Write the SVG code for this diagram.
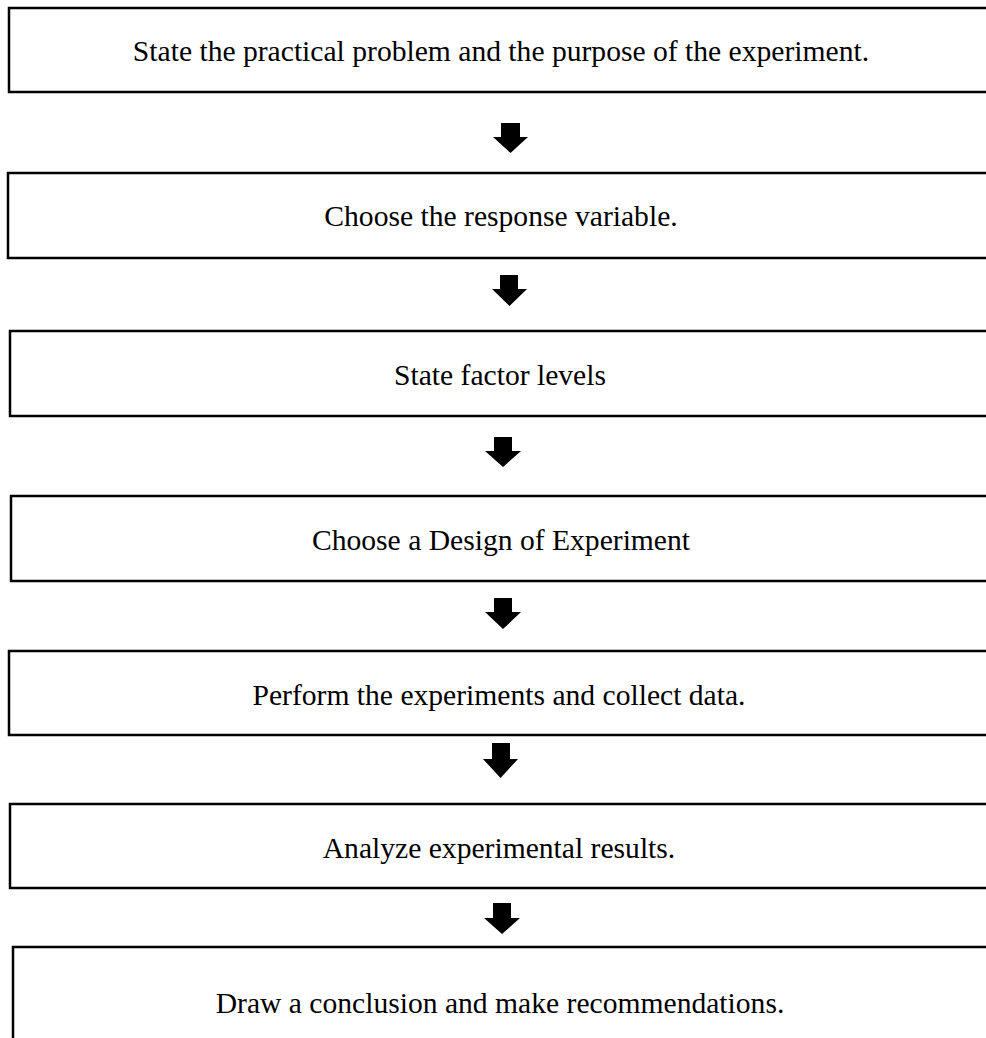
<svg xmlns="http://www.w3.org/2000/svg" width="986" height="1038" viewBox="0 0 986 1038">
<style>
.box{fill:#fff;stroke:#000;stroke-width:2.5}
.t{font-family:"Liberation Serif","Times New Roman",serif;font-size:29.6px;fill:#000;text-anchor:middle}
.arr{fill:#000}
</style>
<rect width="986" height="1038" fill="#fff"/>
<g id="n1"><rect class="box" x="9" y="8" width="1000" height="84"/><text class="t" x="501" y="61">State the practical problem and the purpose of the experiment.</text></g>
<g id="n2"><rect class="box" x="8" y="173" width="1000" height="85"/><text class="t" x="501" y="226">Choose the response variable.</text></g>
<g id="n3"><rect class="box" x="10" y="331" width="1000" height="85"/><text class="t" x="500" y="385">State factor levels</text></g>
<g id="n4"><rect class="box" x="11" y="496" width="1000" height="85"/><text class="t" x="501" y="550">Choose a Design of Experiment</text></g>
<g id="n5"><rect class="box" x="9" y="651" width="1000" height="84"/><text class="t" x="499" y="705">Perform the experiments and collect data.</text></g>
<g id="n6"><rect class="box" x="10" y="804" width="1000" height="84"/><text class="t" x="499" y="858">Analyze experimental results.</text></g>
<g id="n7"><rect class="box" x="13" y="947" width="1000" height="110"/><text class="t" x="500" y="1013">Draw a conclusion and make recommendations.</text></g>
<g id="connectors">
<path class="arr" d="M501,123 H520 V137 H528 L510.5,153 L493,137 H501 Z"/>
<path class="arr" d="M500,275 H518 V289 H527 L509.5,306 L492,289 H500 Z"/>
<path class="arr" d="M494,437 H512 V451 H521 L503,467 L485,451 H494 Z"/>
<path class="arr" d="M494,598 H512 V612 H521 L503,629 L485,612 H494 Z"/>
<path class="arr" d="M492,743 H510 V759 H518 L500.5,778 L483,759 H492 Z"/>
<path class="arr" d="M493,903 H511 V918 H520 L502,934 L484,918 H493 Z"/>
</g>
</svg>
